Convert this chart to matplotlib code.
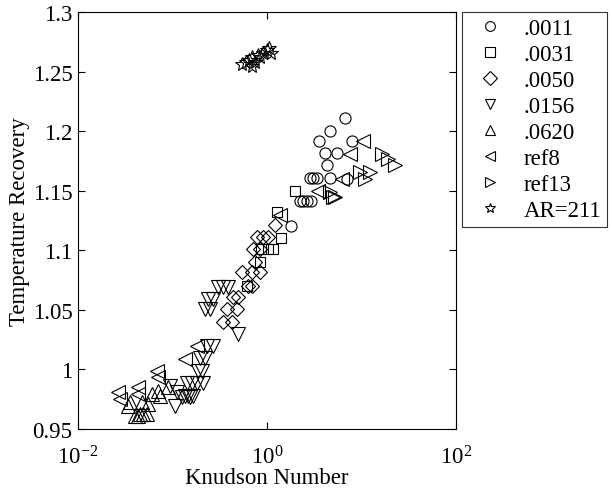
import matplotlib
matplotlib.use("Agg")
import matplotlib.pyplot as plt
from matplotlib.ticker import FixedLocator, FixedFormatter, NullLocator

plt.rcParams['font.family'] = ['Liberation Serif', 'DejaVu Serif']
plt.rcParams['mathtext.fontset'] = 'custom'
plt.rcParams['mathtext.rm'] = 'Liberation Serif'
plt.rcParams['mathtext.it'] = 'Liberation Serif'

# ---- data ----
c0011_x = [6.69, 4.64, 3.55, 7.93, 4.11, 5.51, 4.32, 2.85, 3.07, 3.38, 4.64, 7.03, 2.23, 2.40, 2.65, 2.92, 1.79]
c0011_y = [1.211, 1.200, 1.192, 1.192, 1.182, 1.182, 1.172, 1.161, 1.161, 1.161, 1.161, 1.160, 1.141, 1.141, 1.141, 1.141, 1.120]

c0031_x = [1.98, 1.28, 1.41, 0.865, 1.03, 1.16, 0.84, 0.61]
c0031_y = [1.150, 1.132, 1.110, 1.101, 1.101, 1.101, 1.090, 1.070]

c0050_x = [1.22, 0.78, 0.91, 1.03, 0.71, 0.84, 0.75, 0.54, 0.69, 0.84, 0.63, 0.69, 0.44, 0.49, 0.38, 0.48, 0.34, 0.43]
c0050_y = [1.121, 1.111, 1.111, 1.111, 1.101, 1.101, 1.090, 1.082, 1.082, 1.082, 1.070, 1.070, 1.061, 1.061, 1.051, 1.051, 1.040, 1.040]

c0156_x = [0.232, 0.269, 0.195, 0.221, 0.186, 0.205, 0.142, 0.161, 0.182, 0.210, 0.136, 0.146, 0.165,
           0.094, 0.112, 0.106, 0.126, 0.153, 0.303, 0.342, 0.386, 0.238, 0.269, 0.221, 0.250, 0.493]
c0156_y = [1.020, 1.020, 1.010, 1.010, 0.999, 0.999, 0.989, 0.989, 0.989, 0.989, 0.978, 0.978, 0.978,
           0.986, 0.981, 0.969, 0.977, 0.977, 1.069, 1.069, 1.069, 1.059, 1.059, 1.051, 1.051, 1.030]

c0620_x = [0.0338, 0.0453, 0.0487, 0.0537, 0.0551, 0.0738, 0.0896, 0.0355, 0.0476, 0.0401, 0.0431, 0.0607, 0.0703]
c0620_y = [0.969, 0.963, 0.963, 0.963, 0.971, 0.978, 0.985, 0.973, 0.973, 0.961, 0.961, 0.979, 0.982]

ref8_x = [0.0265, 0.0278, 0.0431, 0.0431, 0.0686, 0.0703, 0.136, 0.182, 1.37, 3.5, 6.2, 7.5, 10.4]
ref8_y = [0.981, 0.975, 0.985, 0.979, 0.999, 0.994, 1.009, 1.020, 1.130, 1.150, 1.160, 1.181, 1.192]

ref13_x = [16.3, 19.1, 22.5, 12.3, 9.6, 11.0, 4.6, 5.2, 5.0]
ref13_y = [1.181, 1.177, 1.172, 1.166, 1.166, 1.160, 1.149, 1.145, 1.145]

ar211_x = [0.55, 0.60, 0.65, 0.70, 0.75, 0.80, 0.85, 0.90, 1.00, 1.05, 1.10, 0.70]
ar211_y = [1.256, 1.258, 1.260, 1.262, 1.258, 1.264, 1.262, 1.266, 1.268, 1.270, 1.266, 1.255]

series = [
    (c0011_x, c0011_y, 'o', '.0011', 8),
    (c0031_x, c0031_y, 's', '.0031', 7.5),
    (c0050_x, c0050_y, 'D', '.0050', 7),
    (c0156_x, c0156_y, 'v', '.0156', 10),
    (c0620_x, c0620_y, '^', '.0620', 10),
    (ref8_x, ref8_y, '<', 'ref8', 10),
    (ref13_x, ref13_y, '>', 'ref13', 10),
    (ar211_x, ar211_y, '*', 'AR=211', 10),
]

yticks = [0.95, 1.0, 1.05, 1.1, 1.15, 1.2, 1.25, 1.3]
ytick_labels = ['0.95', '1', '1.05', '1.1', '1.15', '1.2', '1.25', '1.3']
xticks = [1e-2, 1e0, 1e2]
xtick_labels = [r'$10^{-2}$', r'$10^{0}$', r'$10^{2}$']

FS = 16.5

fig = plt.figure(figsize=(6.12, 4.89), dpi=100)
ax = fig.add_axes([78/612, 1 - 430/489, (456-78)/612, (430-13)/489])

handles = []
for x, y, m, lab, ms in series:
    h, = ax.plot(x, y, linestyle='none', marker=m, markersize=ms,
                 markerfacecolor='none', markeredgecolor='black', markeredgewidth=0.8, label=lab)
    handles.append(h)

ax.set_xscale('log')
ax.set_xlim(1e-2, 1e2)
ax.set_ylim(0.95, 1.3)
ax.xaxis.set_major_locator(FixedLocator(xticks))
ax.xaxis.set_major_formatter(FixedFormatter(xtick_labels))
ax.xaxis.set_minor_locator(NullLocator())
ax.yaxis.set_major_locator(FixedLocator(yticks))
ax.yaxis.set_major_formatter(FixedFormatter(ytick_labels))
ax.tick_params(direction='in', top=True, right=True, length=5, width=0.8, labelsize=FS, pad=4)
ax.tick_params(axis='x', pad=12)
for s in ax.spines.values():
    s.set_linewidth(0.8)
ax.set_xlabel('Knudson Number', fontsize=FS, labelpad=-1)
ax.set_ylabel('Temperature Recovery', fontsize=FS, labelpad=2)

leg = fig.legend(handles=handles, loc='upper left', bbox_to_anchor=(462/612, 1 - 13/489),
                 borderaxespad=0, frameon=True, fancybox=False, fontsize=FS,
                 handlelength=1.95, handletextpad=0.5, labelspacing=0.22, borderpad=0.25)
leg.get_frame().set_edgecolor('black')
leg.get_frame().set_linewidth(0.8)
for lh in leg.legend_handles:
    lh.set_markersize(7)

fig.savefig('out.png', dpi=100)
